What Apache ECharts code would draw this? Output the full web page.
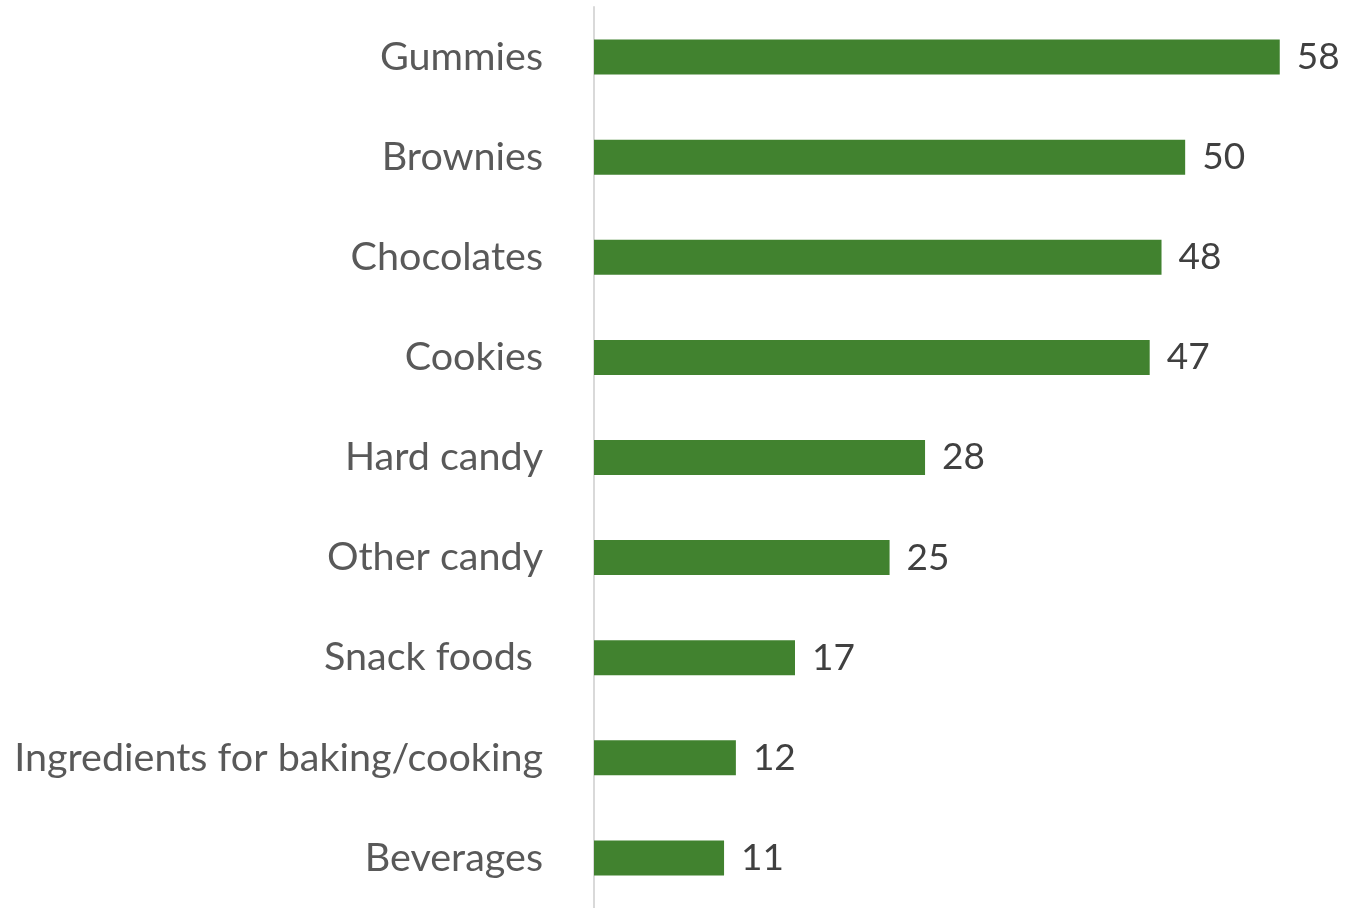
<!DOCTYPE html>
<html>
<head>
<meta charset="utf-8">
<script src="https://cdn.jsdelivr.net/npm/echarts@6/dist/echarts.min.js"></script>
<style>
  html, body { margin: 0; padding: 0; background: #ffffff; }
  #chart { width: 1345px; height: 908px; }
</style>
</head>
<body>
<div id="chart"></div>
<script>
// Categories listed top to bottom
const categories = [
  'Gummies',
  'Brownies',
  'Chocolates',
  'Cookies',
  'Hard candy',
  'Other candy',
  'Snack foods ',
  'Ingredients for baking/cooking',
  'Beverages'
];
const values = [58, 50, 48, 47, 28, 25, 17, 12, 11];

const chart = echarts.init(document.getElementById('chart'));
chart.setOption({
  animation: false,
  grid: { left: 594, top: 7, height: 906.75, right: 41.6, containLabel: false },
  xAxis: {
    type: 'value',
    min: 0,
    max: 60,
    show: false
  },
  yAxis: {
    type: 'category',
    data: categories,
    inverse: true,
    axisLine: { show: true, lineStyle: { color: '#d9d9d9', width: 2 } },
    axisTick: { show: false },
    axisLabel: {
      margin: 51,
      color: '#595959',
      fontFamily: 'Lato',
      fontSize: 39.5
    }
  },
  series: [{
    type: 'bar',
    data: values,
    barWidth: 35,
    itemStyle: { color: '#41822f' },
    label: {
      show: true,
      position: 'right',
      distance: 17,
      color: '#404040',
      fontFamily: 'Lato',
      fontSize: 37
    }
  }]
});
</script>
</body>
</html>
